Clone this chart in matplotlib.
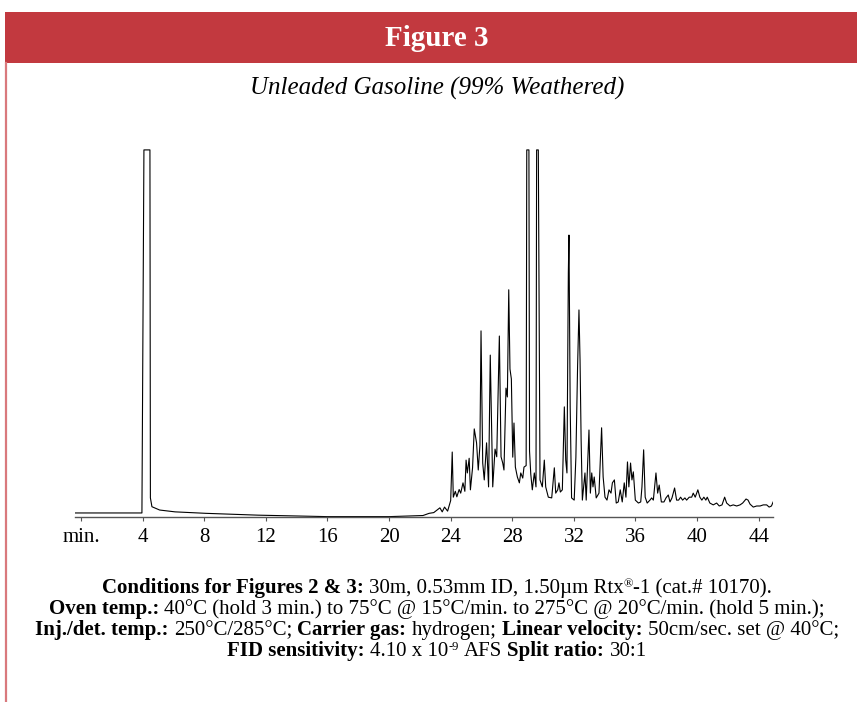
import matplotlib
matplotlib.use("Agg")
import matplotlib.pyplot as plt
from matplotlib.patches import Rectangle
from matplotlib.lines import Line2D

# Chromatogram trace: (retention time in min, response in % of full scale)
solvent_trace = [
    (-0.4, 1.1), (3.95, 1.1), (4.08, 100), (4.47, 100), (4.5, 5.2), (4.6, 2.8),
    (5.1, 1.9), (6.1, 1.4), (8.1, 1.0), (11.5, 0.5), (16.0, 0.1), (20.0, 0.1),
    (22.2, 0.4), (22.6, 1.0),
]
early_trace = [
    (22.9, 1.2), (23.3, 2.5), (23.45, 1.4), (23.6, 2.7), (23.8, 1.6), (24.0, 4.5),
    (24.1, 17.7), (24.17, 5.4), (24.3, 7.0), (24.4, 5.5), (24.55, 7.5), (24.65, 6.5),
    (24.8, 9.3), (24.92, 7.0), (25.0, 15.5), (25.08, 12.0), (25.2, 16.0), (25.28, 7.4),
    (25.42, 13.4), (25.53, 24.0), (25.68, 20.2), (25.79, 12.8), (25.9, 19.6), (25.97, 50.7),
    (26.08, 14.7), (26.18, 10.1), (26.33, 20.2), (26.46, 8.2), (26.57, 44.1), (26.66, 23.7),
    (26.73, 8.2), (26.88, 18.5), (26.99, 16.4), (27.16, 49.3), (27.27, 16.4), (27.38, 14.7),
    (27.46, 12.8), (27.59, 35.1), (27.68, 32.7), (27.77, 61.9), (27.85, 40.3), (27.94, 37.6),
    (28.03, 16.3), (28.11, 25.6), (28.2, 13.6), (28.33, 10.9), (28.46, 9.3), (28.55, 12.0),
    (28.68, 10.6), (28.76, 13.6),
]
main_trace = [
    (28.9, 14.0), (28.94, 100), (29.08, 100), (29.12, 18.0), (29.2, 11.7), (29.3, 7.4),
    (29.43, 12.0), (29.54, 8.2), (29.58, 100), (29.69, 100), (29.8, 10.1), (29.95, 8.2),
    (30.08, 15.5), (30.17, 8.2), (30.34, 5.4), (30.56, 5.2), (30.73, 13.4), (30.82, 6.5),
    (30.95, 7.4), (31.03, 9.3), (31.12, 6.8), (31.25, 7.4), (31.38, 30.0), (31.47, 15.5),
    (31.55, 12.0), (31.64, 66.5), (31.68, 76.8), (31.76, 30.0), (31.85, 5.2), (32.02, 4.6),
    (32.13, 16.3), (32.24, 40.9), (32.33, 56.4), (32.4, 42.8), (32.47, 21.0), (32.55, 4.6),
    (32.72, 12.0), (32.8, 4.6), (32.98, 23.7), (33.07, 6.5), (33.16, 12.0), (33.24, 8.2),
    (33.32, 10.9), (33.45, 5.2), (33.63, 6.5), (33.8, 24.3), (33.9, 10.9), (34.02, 5.4),
    (34.15, 4.6), (34.28, 7.4), (34.41, 6.5), (34.5, 9.3), (34.63, 10.1), (34.75, 3.8),
    (34.88, 4.1), (35.01, 7.4), (35.14, 4.1), (35.27, 9.3),
]
late_trace = [
    (35.38, 5.4), (35.48, 15.0), (35.57, 8.2), (35.68, 14.7), (35.77, 10.1), (35.86, 12.3),
    (35.99, 4.6), (36.19, 3.8), (36.34, 4.1), (36.42, 8.2), (36.53, 18.3), (36.63, 5.4),
    (36.76, 3.8), (36.94, 4.6), (37.05, 5.2), (37.16, 4.6), (37.33, 12.0), (37.44, 6.5),
    (37.54, 8.7), (37.68, 4.1), (37.85, 4.1), (37.98, 5.2), (38.13, 6.0), (38.24, 4.1),
    (38.37, 5.2), (38.54, 7.9), (38.67, 4.6), (38.8, 4.6), (38.93, 5.4), (39.06, 4.6),
    (39.21, 5.2), (39.32, 4.6), (39.49, 5.4), (39.65, 5.4), (39.75, 6.5), (39.88, 5.4),
    (40.05, 7.4), (40.18, 5.4), (40.31, 4.6), (40.44, 5.4), (40.57, 4.6), (40.66, 5.4),
    (40.83, 3.8), (41.05, 3.3), (41.27, 3.8), (41.44, 3.0), (41.62, 3.3), (41.79, 5.4),
    (41.92, 3.8), (42.14, 3.0), (42.35, 3.3), (42.57, 3.0), (42.79, 3.3), (42.96, 3.8),
    (43.18, 4.9), (43.31, 4.6), (43.44, 3.5), (43.65, 2.7), (43.87, 3.0), (44.09, 3.0),
    (44.3, 3.3), (44.52, 3.3), (44.68, 2.7), (44.83, 3.0), (44.94, 4.1),
]

tick_values = [0, 4, 8, 12, 16, 20, 24, 28, 32, 36, 40, 44]
tick_labels = ["min.", "4", "8", "12", "16", "20", "24", "28", "32", "36", "40", "44"]

title = "Figure 3"
subtitle = "Unleaded Gasoline (99% Weathered)"

# conditions text, split into (text, style) pieces; " " is a plain word gap
conditions = [
    [("Conditions for Figures 2 & 3:", "b"), " ", ("30m, 0.53mm ID, 1.50µm Rtx", "r"),
     ("®", "sup"), ("-1 (cat.# 10170).", "r")],
    [("Oven temp.:", "b"), " ",
     ("40°C (hold 3 min.) to 75°C @ 15°C/min. to 275°C @ 20°C/min. (hold 5 min.);", "r")],
    [("Inj./det. temp.:", "b"), " ", ("250°C/285°C;", "r"), " ", ("Carrier gas:", "b"), " ",
     ("hydrogen;", "r"), " ", ("Linear velocity:", "b"), " ", ("50cm/sec. set @ 40°C;", "r")],
    [("FID sensitivity:", "b"), " ", ("4.10 x 10", "r"), ("-9", "sup"), " ", ("AFS", "r"), " ",
     ("Split ratio:", "b"), " ", ("30:1", "r")],
]

trace = solvent_trace + early_trace + main_trace + late_trace
rt = [p[0] for p in trace]
signal = [p[1] for p in trace]

W, H = 857, 702
fig = plt.figure(figsize=(W / 100, H / 100), dpi=100)
serif = "Liberation Serif"

# red banner + left border
fig.patches.append(Rectangle((5 / W, 1 - 62.7 / H), 1 - 5 / W, 51 / H,
                             transform=fig.transFigure, facecolor="#C2393F",
                             edgecolor="none", zorder=0))
fig.lines.append(Line2D([5.5 / W, 5.5 / W], [0, 1 - 62.7 / H], transform=fig.transFigure,
                        color="#D9797D", lw=1.6))

fig.text(437 / W, 1 - 45.7 / H, title, color="white", fontsize=21, fontweight="bold",
         family=serif, ha="center", va="baseline")
fig.text(437 / W, 1 - 95 / H, subtitle, color="black", fontsize=18, style="italic",
         family=serif, ha="center", va="baseline")

# chromatogram
ax = fig.add_axes([75 / W, 1 - 517 / H, (773 - 75) / W, (517 - 140) / H])
ax.plot(rt, signal, color="black", lw=0.8)
ax.set_xlim(-0.396, 44.93)
ax.set_ylim(0, 102.7)
for s in ["left", "top", "right"]:
    ax.spines[s].set_visible(False)
ax.spines["bottom"].set_color("#555555")
ax.spines["bottom"].set_linewidth(1.0)
ax.set_yticks([])
ax.set_xticks(tick_values)
ax.set_xticklabels(tick_labels, family=serif, fontsize=15)
ax.tick_params(axis="x", length=3, width=0.8, color="#555555", pad=5)
ax.patch.set_alpha(0)

# conditions block: mixed bold / regular runs, centred line by line
fs = 15
renderer = fig.canvas.get_renderer()
space_w = 0.25 * fs * 100 / 72


def piece_kw(style):
    if style == "b":
        return dict(fontsize=fs, fontweight="bold")
    if style == "sup":
        return dict(fontsize=fs * 0.6)
    return dict(fontsize=fs)


def piece_width(txt, style):
    t = fig.text(0, 0, txt, family=serif, **piece_kw(style))
    w = t.get_window_extent(renderer).width
    t.remove()
    return w


baselines = [593, 614, 635, 656]
for line, yb in zip(conditions, baselines):
    widths = [space_w if p == " " else piece_width(*p) for p in line]
    x = 437 - sum(widths) / 2
    for p, w in zip(line, widths):
        if p != " ":
            txt, style = p
            y = yb - (6 if style == "sup" else 0)
            fig.text(x / W, 1 - y / H, txt, family=serif, ha="left", va="baseline",
                     **piece_kw(style))
        x += w

fig.savefig("out.png", dpi=100)
